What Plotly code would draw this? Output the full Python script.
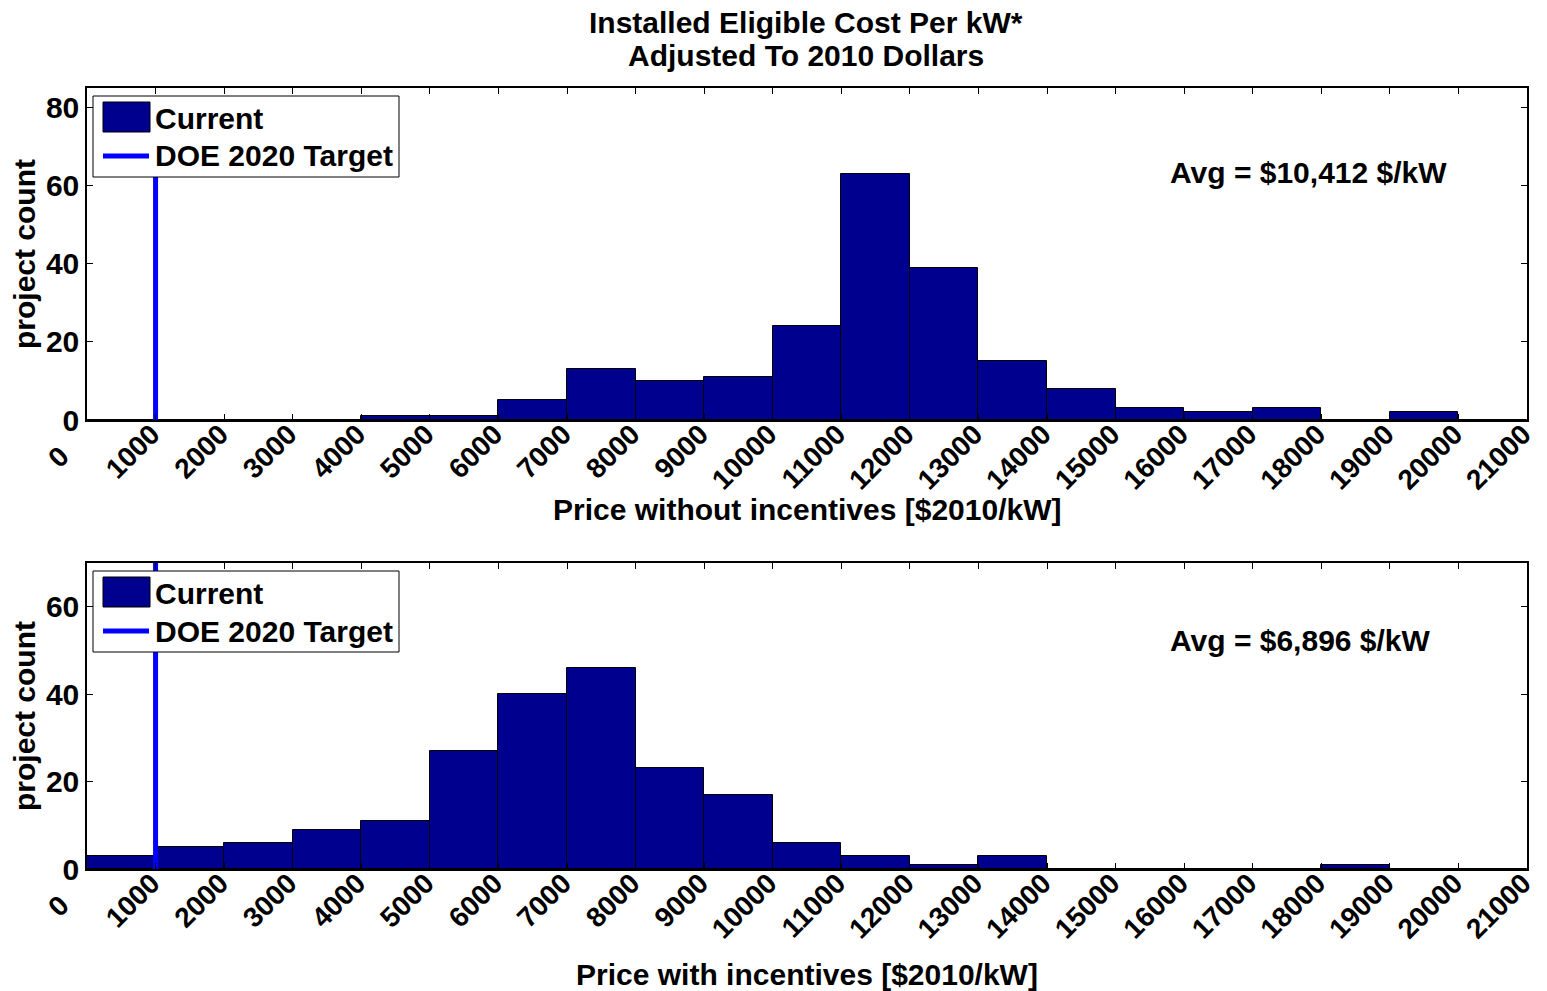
import plotly.graph_objects as go

# Bin left edges ($2010/kW), bin width 1000
bin_edges = list(range(0, 21000, 1000))
counts_without = [0, 0, 0, 0, 1, 1, 5, 13, 10, 11, 24, 63, 39, 15, 8, 3, 2, 3, 0, 2, 0]
counts_with = [3, 5, 6, 9, 11, 27, 40, 46, 23, 17, 6, 3, 1, 3, 0, 0, 0, 0, 1, 0, 0]
bin_width = 1000
doe_target = 1000
avg_without = "Avg = $10,412 $/kW"
avg_with = "Avg = $6,896 $/kW"
x_ticks = list(range(0, 22000, 1000))
legend_labels = ["Current", "DOE 2020 Target"]

FONT = "Liberation Sans, Arial, sans-serif"
FS = 30
XFS = 28
BAR_COLOR = "#00008F"
LINE_COLOR = "#0000FF"
OFF = 8                      # default page (body) margin of the html page
W, H = 1547 - OFF, 991 - OFF


def py(p):
    return (H - (p - OFF)) / H


def px(p):
    return (p - OFF) / W


def bfont(size=FS):
    return dict(family=FONT, size=size, color="black", weight="bold")


# rotated labels are centred under their ticks in the reference; pad the short "0"
x_ticktext = [str(v) for v in x_ticks]
x_ticktext[0] = x_ticktext[0] + "\u00a0\u00a0\u00a0\u00a0"

dom_top = [py(420), py(88)]
dom_bot = [py(869), py(563)]

fig = go.Figure()

for i, (counts, lineTop) in enumerate([(counts_without, 80), (counts_with, 70)]):
    xa = "x" if i == 0 else "x2"
    ya = "y" if i == 0 else "y2"
    fig.add_trace(go.Bar(
        x=bin_edges, y=counts, width=bin_width, offset=0,
        marker=dict(color=BAR_COLOR, line=dict(color="black", width=1)),
        name=legend_labels[0], xaxis=xa, yaxis=ya, showlegend=False,
    ))
    fig.add_trace(go.Scatter(
        x=[doe_target, doe_target], y=[0, lineTop], mode="lines",
        line=dict(color=LINE_COLOR, width=5),
        name=legend_labels[1], xaxis=xa, yaxis=ya, showlegend=False,
    ))

common_x = dict(
    range=[0, 21000], tickvals=x_ticks, ticktext=x_ticktext,
    tickangle=-45, ticks="inside", ticklen=6, tickcolor="black",
    showline=True, linecolor="black", linewidth=1.5, mirror="allticks",
    showgrid=False, zeroline=False, automargin=False,
    tickfont=bfont(XFS), ticklabelstandoff=-15, ticklabelshift=-4,
    domain=[px(87), px(1527)],
)
common_y = dict(
    ticks="inside", ticklen=6, tickcolor="black",
    showline=True, linecolor="black", linewidth=1.5, mirror="allticks",
    showgrid=False, zeroline=False, automargin=False,
    tickfont=bfont(),
    title=dict(text="project count", font=bfont(), standoff=10),
)

# Custom legend boxes (shapes + text), one per panel
shapes = []
annotations = []
for top in (96, 571):
    shapes.append(dict(type="rect", xref="paper", yref="paper",
                       x0=px(93), x1=px(399), y0=py(top + 81), y1=py(top),
                       fillcolor="white", line=dict(color="black", width=1), layer="above"))
    shapes.append(dict(type="rect", xref="paper", yref="paper",
                       x0=px(103), x1=px(150), y0=py(top + 36), y1=py(top + 6),
                       fillcolor=BAR_COLOR, line=dict(color="black", width=1), layer="above"))
    shapes.append(dict(type="line", xref="paper", yref="paper",
                       x0=px(103), x1=px(149), y0=py(top + 60), y1=py(top + 60),
                       line=dict(color=LINE_COLOR, width=5), layer="above"))
    annotations.append(dict(text=legend_labels[0], xref="paper", yref="paper",
                            x=px(153), y=py(top + 22), xanchor="left", yanchor="middle",
                            showarrow=False, font=bfont()))
    annotations.append(dict(text=legend_labels[1], xref="paper", yref="paper",
                            x=px(153), y=py(top + 60), xanchor="left", yanchor="middle",
                            showarrow=False, font=bfont()))

annotations += [
    dict(text="Installed Eligible Cost Per kW*", xref="paper", yref="paper",
         x=px(806), y=py(22), xanchor="center", yanchor="middle", showarrow=False, font=bfont()),
    dict(text="Adjusted To 2010 Dollars", xref="paper", yref="paper",
         x=px(806), y=py(55), xanchor="center", yanchor="middle", showarrow=False, font=bfont()),
    dict(text="Price without incentives [$2010/kW]", xref="paper", yref="paper",
         x=px(807), y=py(509), xanchor="center", yanchor="middle", showarrow=False, font=bfont()),
    dict(text=avg_without, xref="paper", yref="paper", x=px(1168), y=py(172),
         xanchor="left", yanchor="middle", showarrow=False, font=bfont()),
    dict(text=avg_with, xref="paper", yref="paper", x=px(1168), y=py(640),
         xanchor="left", yanchor="middle", showarrow=False, font=bfont()),
]

fig.update_layout(
    width=W, height=H,
    margin=dict(l=0, r=0, t=0, b=0),
    paper_bgcolor="white", plot_bgcolor="white",
    barmode="overlay", bargap=0,
    font=dict(family=FONT, color="black"),
    showlegend=False,
    xaxis=dict(common_x, anchor="y"),
    yaxis=dict(common_y, anchor="x", domain=dom_top, range=[0, 85], tickvals=[0, 20, 40, 60, 80]),
    xaxis2=dict(common_x, anchor="y2",
                title=dict(text="Price with incentives [$2010/kW]", font=bfont(), standoff=26)),
    yaxis2=dict(common_y, anchor="x2", domain=dom_bot, range=[0, 70], tickvals=[0, 20, 40, 60]),
    shapes=shapes,
    annotations=annotations,
)

fig.write_html("out.html")
